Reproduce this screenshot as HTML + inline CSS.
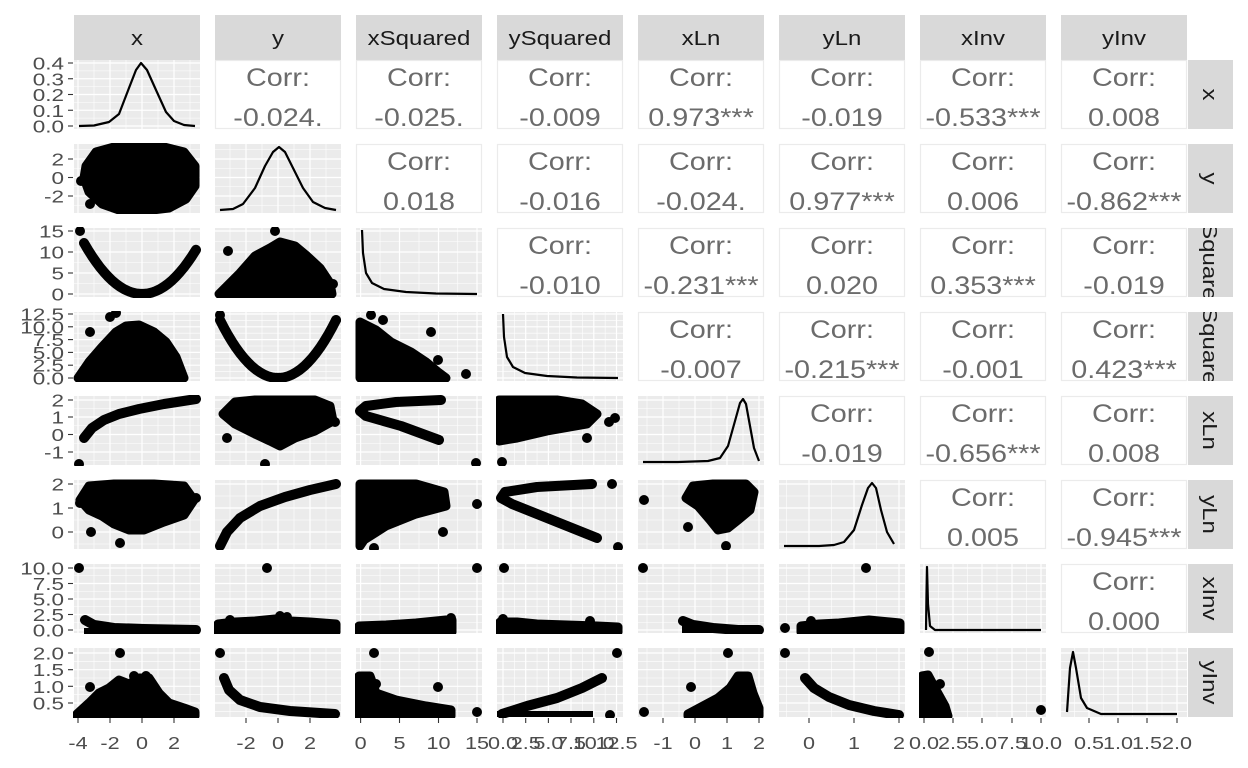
<!DOCTYPE html>
<html><head><meta charset="utf-8"><style>
html,body{margin:0;padding:0;background:#fff;}
svg{display:block;font-family:"Liberation Sans",sans-serif;}
</style></head><body>
<svg id="s" width="1248" height="768" viewBox="0 0 1248 768" xmlns="http://www.w3.org/2000/svg"></svg>
<script>
var S=document.getElementById('s');var out=[];
var W=126,H=69;
function L(c){return 74+141*c;} function T(r){return 60+84*r;}
function txt(x,y,s,size,sx,anchor,fill,rot){return '<text transform="translate('+x+','+y+')'+(rot?' rotate(90)':'')+' scale('+sx+',1)" font-size="'+size+'" fill="'+fill+'" text-anchor="'+anchor+'">'+s+'</text>';}
var names=["x","y","xSquared","ySquared","xLn","yLn","xInv","yInv"];
var rowT=[[3,18.75,34.5,50.25,66],[15,33.5,52],[3,24,45,66],[2,14.8,27.6,40.4,53.2,66],[4,21,38.5,56],[4,28,52],[4,19.5,35,50.5,66],[5,21.7,38.3,55]];
var rowL=[["0.4","0.3","0.2","0.1","0.0"],["2","0","-2"],["15","10","5","0"],["12.5","10.0","7.5","5.0","2.5","0.0"],["2","1","0","-1"],["2","1","0"],["10.0","7.5","5.0","2.5","0.0"],["2.0","1.5","1.0","0.5"]];
var colT=[[4,36,68,100],[31,63,95],[4.6,43.5,82.5,121],[6,28.7,51.4,74,96.8,119.5],[25,57,89,121],[30,75,120],[4,33,62,92,121],[28,57,86,116]];
var colL=[["-4","-2","0","2"],["-2","0","2"],["0","5","10","15"],["0.0","2.5","5.0","7.5","10.0","12.5"],["-1","0","1","2"],["0","1","2"],["0.0","2.5","5.0","7.5","10.0"],["0.5","1.0","1.5","2.0"]];
var corr=[[null,"-0.024.","-0.025.","-0.009","0.973***","-0.019","-0.533***","0.008"],
[null,null,"0.018","-0.016","-0.024.","0.977***","0.006","-0.862***"],
[null,null,null,"-0.010","-0.231***","0.020","0.353***","-0.019"],
[null,null,null,null,"-0.007","-0.215***","-0.001","0.423***"],
[null,null,null,null,null,"-0.019","-0.656***","0.008"],
[null,null,null,null,null,null,"0.005","-0.945***"],
[null,null,null,null,null,null,null,"0.000"]];
function mids(a){var m=[];var d=a[1]-a[0];m.push(a[0]-d/2);for(var i=0;i<a.length-1;i++)m.push((a[i]+a[i+1])/2);m.push(a[a.length-1]+d/2);return m;}
out.push('<defs>');for(var r=0;r<8;r++)out.push('<clipPath id="rc'+r+'"><rect x="1188" y="'+T(r)+'" width="45" height="'+H+'"/></clipPath>');
for(var r=0;r<8;r++)for(var c=0;c<8;c++)out.push('<clipPath id="p'+r+'_'+c+'"><rect x="'+(L(c)-1)+'" y="'+(T(r)-1)+'" width="'+(W+2)+'" height="'+(H+2)+'"/></clipPath>');
out.push('</defs>');
for(var c=0;c<8;c++){out.push('<rect x="'+L(c)+'" y="15" width="'+W+'" height="45" fill="#D9D9D9"/>'+txt(L(c)+W/2,45,names[c],20,1.2,'middle','#1A1A1A'));}
for(var r=0;r<8;r++){var cy=T(r)+H/2;out.push('<rect x="1188" y="'+T(r)+'" width="45" height="'+H+'" fill="#D9D9D9"/><g clip-path="url(#rc'+r+')">'+txt(1203,cy,names[r],20,1.2,'middle','#1A1A1A',true)+'</g>');}
for(var r=0;r<8;r++)for(var c=0;c<8;c++){
 var x0=L(c),y0=T(r);
 if(c>r){out.push('<rect x="'+(x0+0.5)+'" y="'+(y0+0.5)+'" width="'+(W-1)+'" height="'+(H-1)+'" fill="#fff" stroke="#EBEBEB" stroke-width="1.2"/>');
  out.push(txt(x0+W/2,y0+26,'Corr:',25,1.15,'middle','#6B6B6B'));
  out.push(txt(x0+W/2,y0+66,corr[r][c],25,1.15,'middle','#6B6B6B'));
  continue;}
 out.push('<rect x="'+x0+'" y="'+y0+'" width="'+W+'" height="'+H+'" fill="#EBEBEB"/>');
 var g='<g clip-path="url(#p'+r+'_'+c+')">';
 var xm=mids(colT[c]),ym=mids(rowT[r]);
 xm.forEach(function(t){g+='<line x1="'+(x0+t)+'" x2="'+(x0+t)+'" y1="'+y0+'" y2="'+(y0+H)+'" stroke="#fff" stroke-width="0.6"/>';});
 ym.forEach(function(t){g+='<line y1="'+(y0+t)+'" y2="'+(y0+t)+'" x1="'+x0+'" x2="'+(x0+W)+'" stroke="#fff" stroke-width="0.6"/>';});
 colT[c].forEach(function(t){g+='<line x1="'+(x0+t)+'" x2="'+(x0+t)+'" y1="'+y0+'" y2="'+(y0+H)+'" stroke="#fff" stroke-width="1.2"/>';});
 rowT[r].forEach(function(t){g+='<line y1="'+(y0+t)+'" y2="'+(y0+t)+'" x1="'+x0+'" x2="'+(x0+W)+'" stroke="#fff" stroke-width="1.2"/>';});
 g+='<g transform="translate('+x0+','+y0+')">'+shape(r,c)+'</g></g>';
 out.push(g);
}
function P(a){return a.map(function(p){return p[0]+','+p[1];}).join(' ');}
function dens(a){return '<polyline points="'+P(a)+'" fill="none" stroke="#000" stroke-width="2.2" stroke-linejoin="round"/>';}
function curve(a){return '<polyline points="'+P(a)+'" fill="none" stroke="#000" stroke-width="10" stroke-linecap="round" stroke-linejoin="round"/>';}
function poly(a){return '<polygon points="'+P(a)+'" fill="#000" stroke="#000" stroke-width="9" stroke-linejoin="round"/>';}
function pts(a){return a.map(function(p){return '<circle cx="'+p[0]+'" cy="'+p[1]+'" r="5"/>';}).join('');}
function para(cx,k,x1,x2){var a=[];for(var x=x1;x<=x2;x+=4)a.push([x,(66-k*(x-cx)*(x-cx)).toFixed(1)]);return a;}
function shape(r,c){
 var k=r+'_'+c;
 switch(k){
 case '0_0':return dens([[5,66],[20,65.5],[35,62],[45,54],[55,28],[62,10],[67,3],[73,10],[82,30],[92,52],[100,61],[110,65],[121,66]]);
 case '1_0':return poly([[12,22],[22,8],[40,3],[65,2],[90,3],[110,8],[121,22],[121,42],[112,55],[95,64],[70,67],[45,66],[28,60],[15,48],[10,34]])+pts([[7,37],[16,60],[40,4]]);
 case '1_1':return dens([[5,66],[18,65],[28,60],[40,44],[50,22],[58,8],[64,3],[70,8],[78,24],[88,44],[98,58],[110,64],[121,66]]);
 case '2_0':return curve(para(68,0.01516,10,122))+pts([[6,3]]);
 case '2_1':return poly([[4,66],[12,58],[25,45],[40,28],[55,20],[65,14],[80,18],[92,28],[105,40],[115,55],[117,66]])+pts([[60,3],[13,23],[118,56]]);
 case '2_2':return dens([[6,2],[7,25],[10,45],[16,55],[28,61],[50,64],[80,65.5],[121,66]]);
 case '3_0':return poly([[4,66],[15,50],[28,35],[42,20],[52,14],[65,13],[80,20],[92,30],[102,45],[110,66]])+pts([[36,5],[42,1],[16,20]]);
 case '3_1':return curve(para(63,0.0172,5,122))+pts([[5,3],[121,8]]);
 case '3_2':return poly([[4,66],[4,10],[20,18],[35,30],[55,40],[70,50],[82,60],[90,66]])+pts([[15,3],[27,8],[75,20],[110,62],[82,48]]);
 case '3_3':return dens([[6,2],[7,25],[10,45],[16,55],[28,61],[50,64],[80,65.5],[121,66]]);
 case '4_0':return curve([[10,42],[18,32],[30,24],[45,18],[65,13],[90,8],[122,3]])+pts([[5,68]]);
 case '4_1':return poly([[8,18],[20,6],[40,4],[70,4],[100,4],[115,10],[118,25],[100,35],[80,42],[65,50],[55,45],[40,38],[20,28]])+pts([[12,42],[50,68],[120,26]]);
 case '4_2':return curve([[85,4],[40,6],[10,10],[4,15],[10,20],[45,30],[83,44]])+pts([[120,67]]);
 case '4_3':return poly([[2,4],[60,4],[85,8],[100,18],[90,28],[50,35],[20,42],[2,45]])+pts([[118,22],[112,26],[90,42],[5,66]]);
 case '4_4':return dens([[5,66],[40,66],[70,65],[82,62],[90,50],[97,25],[102,7],[105,3],[108,8],[112,30],[116,52],[121,65]]);
 case '5_0':return poly([[6,20],[15,6],[40,4],[80,4],[110,6],[120,20],[110,35],[90,42],[70,50],[55,50],[40,44],[28,36],[15,30]])+pts([[6,23],[17,52],[46,63],[122,18]]);
 case '5_1':return curve([[5,66],[12,52],[25,38],[45,26],[70,17],[95,10],[121,4]]);
 case '5_2':return poly([[4,4],[60,4],[88,12],[90,26],[60,34],[30,46],[8,60],[4,66]])+pts([[121,24],[87,52],[18,68]]);
 case '5_3':return curve([[95,4],[40,7],[8,12],[4,18],[15,24],[50,38],[100,58]])+pts([[115,4],[121,67]]);
 case '5_4':return poly([[48,18],[55,6],[75,4],[108,4],[116,12],[112,30],[100,40],[90,48],[80,50],[72,40],[60,26]])+pts([[6,20],[50,47],[88,66]]);
 case '5_5':return dens([[5,66],[40,66],[55,65],[65,62],[75,50],[83,25],[89,8],[93,3],[97,8],[102,30],[108,52],[115,64]]);
 case '6_0':return curve([[11,56],[20,61],[40,64],[70,65],[122,66]])+'<rect x="10" y="64" width="114" height="6"/>'+pts([[5,4]]);
 case '6_1':return poly([[3,60],[20,58],[40,57],[60,55],[75,57],[95,58],[121,60],[121,68],[3,68]])+pts([[52,4],[15,56],[65,52],[72,53]]);
 case '6_2':return poly([[3,62],[30,61],[60,59],[90,56],[96,56],[96,68],[3,68]])+pts([[121,4],[95,54]]);
 case '6_3':return poly([[3,58],[20,58],[40,60],[70,61],[100,62],[121,63],[121,68],[3,68]])+pts([[7,4],[6,55],[93,57]]);
 case '6_4':return curve([[45,57],[55,61],[75,64],[100,66],[121,66]])+'<rect x="44" y="62" width="80" height="7"/>'+pts([[5,4]]);
 case '6_5':return poly([[22,62],[40,60],[60,59],[80,57],[90,56],[100,57],[121,59],[121,68],[22,68]])+pts([[87,4],[6,64],[32,57]]);
 case '6_6':return dens([[6,66],[6.5,30],[7,3],[8,40],[10,62],[15,66],[121,66]]);
 case '7_0':return poly([[3,66],[15,55],[25,45],[35,40],[45,32],[55,36],[65,30],[75,30],[85,45],[95,55],[110,60],[121,64],[121,68],[3,68]])+pts([[46,5],[16,39],[60,28],[72,28]]);
 case '7_1':return curve([[9,30],[14,42],[25,52],[45,59],[75,63],[120,66]])+pts([[5,5]]);
 case '7_2':return poly([[3,28],[14,28],[20,45],[40,52],[70,58],[95,62],[95,68],[3,68]])+pts([[18,5],[82,39],[121,64],[20,36]]);
 case '7_3':return curve([[5,66],[30,58],[60,50],[85,40],[105,30]])+'<rect x="0" y="63" width="96" height="6"/>'+pts([[120,5],[113,67]]);
 case '7_4':return poly([[50,66],[65,58],[80,50],[92,40],[100,28],[110,28],[115,45],[121,60],[121,68],[50,68]])+pts([[90,5],[53,39],[6,64],[100,36]]);
 case '7_5':return curve([[26,30],[35,40],[50,49],[70,57],[95,63],[120,67]])+pts([[6,5]]);
 case '7_6':return poly([[2,28],[8,27],[15,40],[25,58],[28,68],[2,68]])+pts([[9,4],[20,36],[121,62]]);
 case '7_7':return dens([[6,64],[9,20],[12,4],[15,20],[20,50],[26,60],[40,66],[80,66],[116,66]]);
 }
 return '';
}
for(var r=0;r<8;r++){rowT[r].forEach(function(t,i){var y=T(r)+t;out.push('<line x1="68" x2="73" y1="'+y+'" y2="'+y+'" stroke="#333" stroke-width="1.1"/>'+txt(64,y+6.5,rowL[r][i],18,1.25,'end','#4D4D4D'));});}
for(var c=0;c<8;c++){colT[c].forEach(function(t,i){var x=L(c)+t;out.push('<line x1="'+x+'" x2="'+x+'" y1="718" y2="723" stroke="#333" stroke-width="1.1"/>'+txt(x,749,colL[c][i],18,1.2,'middle','#4D4D4D'));});}
S.innerHTML=out.join('');
</script>
</body></html>
